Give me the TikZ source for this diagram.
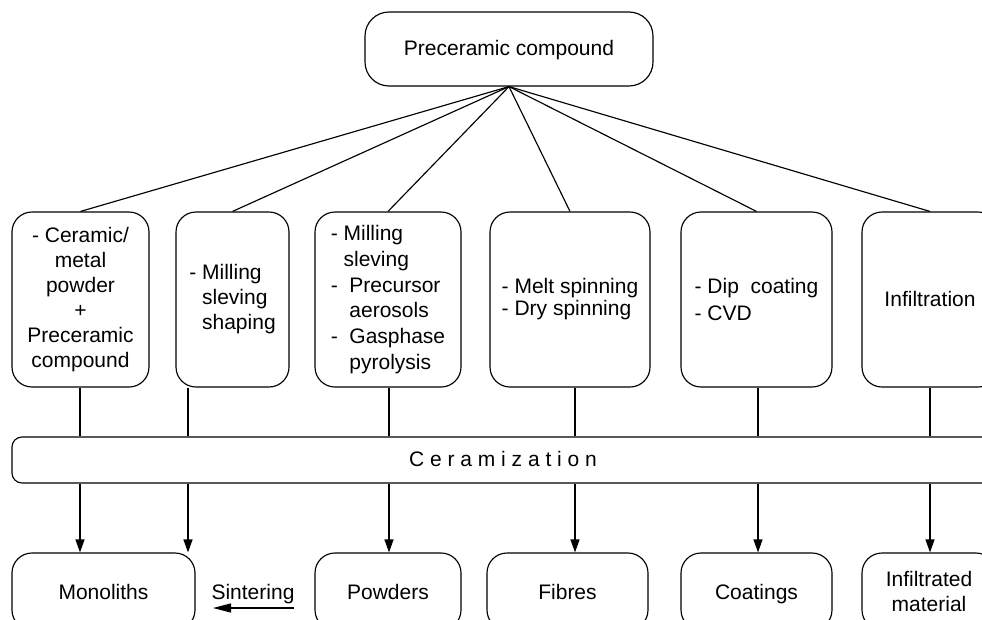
\documentclass[tikz,border=0pt]{standalone}
\usepackage{fontspec}
\setmainfont{Liberation Sans}
\usetikzlibrary{arrows.meta}
\begin{document}
\begin{tikzpicture}[x=1pt,y=-1pt,
  every node/.style={font=\fontsize{21}{25}\selectfont, inner sep=0pt},
  box/.style={draw, line width=1.15pt, rounded corners=20pt},
  one/.style={text height=16pt, text depth=3pt},
  ln/.style={line width=1.15pt},
  arr/.style={line width=1.15pt, -{Triangle[length=13pt,width=9pt]}}]
\useasboundingbox (0,0) rectangle (982,619);
\clip (0,0) rectangle (982,619);
\fill[white] (0,0) rectangle (982,619);
% top
\node[box, one, rounded corners=24pt, minimum width=288pt, minimum height=74pt] (top) at (509,49) {Preceramic compound};
% process boxes
\node[box, minimum width=137pt, minimum height=175pt, align=center] (b1) at (80.5,299.5)
  {- Ceramic/\\metal\\powder\\+\\Preceramic\\compound};
\node[box, minimum width=113pt, minimum height=175pt, align=left] (b2) at (232.5,299.5)
  {- Milling\\\phantom{- }sleving\\\phantom{- }shaping};
\node[box, minimum width=146pt, minimum height=175pt, align=left, font=\fontsize{21}{25.8}\selectfont] (b3) at (388,299.5)
  {- Milling\\\phantom{- }sleving\\-\ \ Precursor\\\phantom{-\ \ }aerosols\\-\ \ Gasphase\\\phantom{-\ \ }pyrolysis};
\node[box, minimum width=160pt, minimum height=175pt, align=left, font=\fontsize{21}{22}\selectfont] (b4) at (570,299.5)
  {- Melt spinning\\- Dry spinning};
\node[box, minimum width=151pt, minimum height=175pt, align=left, font=\fontsize{21}{27}\selectfont] (b5) at (756.5,299.5)
  {- Dip\ \ coating\\- CVD};
\node[box, one, minimum width=136pt, minimum height=175pt] (b6) at (930,299.5) {Infiltration};
% ceramization bar
\node[box, one, rounded corners=10pt, minimum width=982pt, minimum height=46pt] (cer) at (503,460)
  {C e r a m i z a t i o n};
% products
\tikzset{prod/.style={box, text height=17pt, text depth=2pt, minimum height=77pt}}
\node[prod, minimum width=183pt] (mono) at (103.5,591.5) {Monoliths};
\node[prod, minimum width=146pt] (pow) at (388,591.5) {Powders};
\node[prod, minimum width=161pt] (fib) at (567.5,591.5) {Fibres};
\node[prod, minimum width=151pt] (coat) at (756.5,591.5) {Coatings};
\node[box, minimum width=134pt, minimum height=77pt, align=center] (inf) at (929,591.5) {Infiltrated\\material};
\node[text height=17pt, text depth=2pt] (sint) at (253,592) {Sintering};
\coordinate (sa) at (294,608);
\coordinate (sb) at (213,608);
% x positions
\coordinate (x1) at (80,0);
\coordinate (x2) at (188,0);
\coordinate (x3) at (389,0);
\coordinate (x4) at (575,0);
\coordinate (x5) at (758,0);
\coordinate (x6) at (930,0);
% fan
\foreach \b in {b1,b2,b3,b4,b5,b6} \draw[ln] (top.south) -- (\b.north);
% down to ceramization
\draw[ln] (b1.south -| x1) -- (cer.north -| x1);
\draw[ln] (b2.south -| x2) -- (cer.north -| x2);
\draw[ln] (b3.south -| x3) -- (cer.north -| x3);
\draw[ln] (b4.south -| x4) -- (cer.north -| x4);
\draw[ln] (b5.south -| x5) -- (cer.north -| x5);
\draw[ln] (b6.south -| x6) -- (cer.north -| x6);
% arrows to products
\draw[arr] (cer.south -| x1) -- (mono.north -| x1);
\draw[arr] (cer.south -| x2) -- (mono.north -| x2);
\draw[arr] (cer.south -| x3) -- (pow.north -| x3);
\draw[arr] (cer.south -| x4) -- (fib.north -| x4);
\draw[arr] (cer.south -| x5) -- (coat.north -| x5);
\draw[arr] (cer.south -| x6) -- (inf.north -| x6);
% sintering
\draw[line width=1.15pt, -{Triangle[length=18pt,width=9pt]}] (sa) -- (sb);
\end{tikzpicture}
\end{document}
